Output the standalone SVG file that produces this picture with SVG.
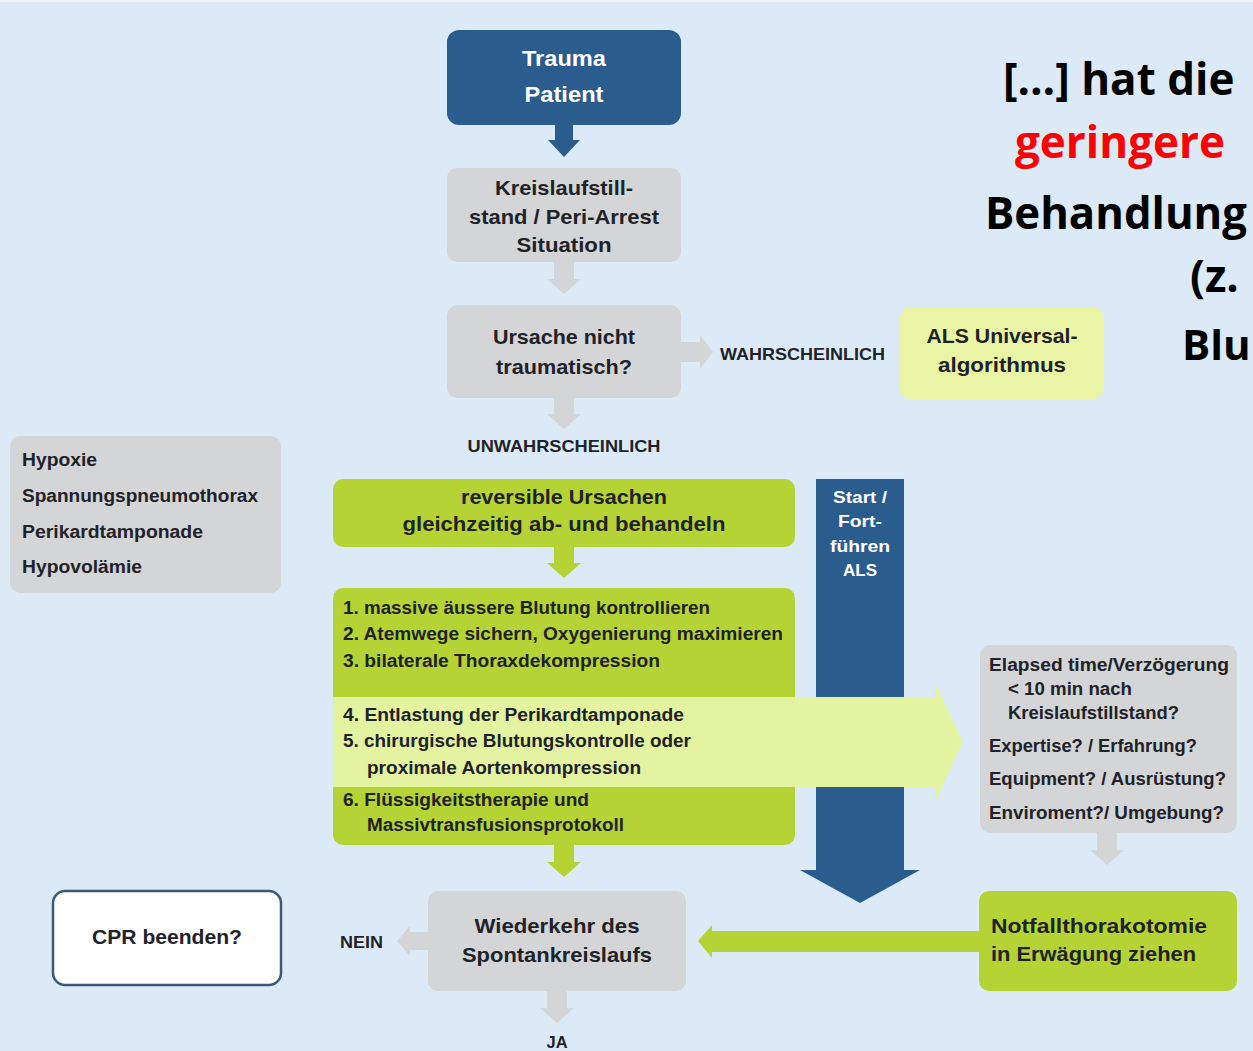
<svg xmlns="http://www.w3.org/2000/svg" width="1253" height="1051" viewBox="0 0 1253 1051">
<style>
.t{font-family:"Liberation Sans",Arial,sans-serif;font-weight:bold;fill:#1f2228}
.w{fill:#ffffff}
.c{text-anchor:middle}
.big{font-family:"Open Sans","Liberation Sans",sans-serif;font-weight:bold;font-size:44px;fill:#000}
.gray{fill:#d3d5d7}
.blue{fill:#2b5c8e}
.lime{fill:#b5d335}
.pale{fill:#e3f39f}
</style>
<rect width="1253" height="1051" fill="#dceaf7"/>
<rect width="1253" height="2" fill="#eef4fa"/>

<g id="connectors">
  <polygon class="blue" points="555,120 573,120 573,140 580,140 564,157 548,140 555,140"/>
  <polygon class="gray" points="554,260 574,260 574,279 581,279 564,294 547,279 554,279"/>
  <polygon class="gray" points="679,342 700,342 700,335 713,352 700,369 700,362 679,362"/>
  <polygon class="gray" points="554,396 574,396 574,414 581,414 564,429 547,414 554,414"/>
  <polygon class="lime" points="554,545 574,545 574,563 581,563 564,578 547,563 554,563"/>
  <polygon class="lime" points="554,843 574,843 574,862 581,862 564,877 547,862 554,862"/>
  <polygon class="gray" points="1097,831 1117,831 1117,850 1124,850 1107,865 1090,850 1097,850"/>
  <polygon class="lime" points="981,931 712,931 712,925 698,941 712,958 712,952 981,952"/>
  <polygon class="gray" points="430,932 410,932 410,926 397,941 410,956 410,950 430,950"/>
  <polygon class="gray" points="547,989 567,989 567,1008 574,1008 557,1023 540,1008 547,1008"/>
  <polygon class="blue" points="816,479 904,479 904,870 920,870 860,903 800,870 816,870"/>
</g>

<g id="trauma">
  <rect x="447" y="30" width="234" height="95" rx="12" class="blue"/>
  <text class="t w c" x="564" y="66" font-size="22" textLength="84" lengthAdjust="spacingAndGlyphs">Trauma</text>
  <text class="t w c" x="564" y="102" font-size="22" textLength="79" lengthAdjust="spacingAndGlyphs">Patient</text>
</g>

<g id="kreislauf">
  <rect x="447" y="168" width="234" height="94" rx="10" class="gray"/>
  <text class="t c" x="564" y="195" font-size="21" textLength="138" lengthAdjust="spacingAndGlyphs">Kreislaufstill-</text>
  <text class="t c" x="564" y="224" font-size="21" textLength="190" lengthAdjust="spacingAndGlyphs">stand / Peri-Arrest</text>
  <text class="t c" x="564" y="252" font-size="21" textLength="95" lengthAdjust="spacingAndGlyphs">Situation</text>
</g>

<g id="ursache">
  <rect x="447" y="305" width="234" height="93" rx="10" class="gray"/>
  <text class="t c" x="564" y="344" font-size="21" textLength="142" lengthAdjust="spacingAndGlyphs">Ursache nicht</text>
  <text class="t c" x="564" y="374" font-size="21" textLength="136" lengthAdjust="spacingAndGlyphs">traumatisch?</text>
</g>

<g id="labels">
  <text class="t" x="720" y="360" font-size="17" textLength="165" lengthAdjust="spacingAndGlyphs">WAHRSCHEINLICH</text>
  <text class="t c" x="564" y="452" font-size="17" textLength="193" lengthAdjust="spacingAndGlyphs">UNWAHRSCHEINLICH</text>
  <text class="t" x="340" y="948" font-size="17" textLength="43" lengthAdjust="spacingAndGlyphs">NEIN</text>
  <text class="t c" x="557" y="1048" font-size="17" textLength="21" lengthAdjust="spacingAndGlyphs">JA</text>
</g>

<g id="als">
  <rect x="900" y="307" width="203" height="92" rx="10" fill="#e9f5a4"/>
  <text class="t c" x="1002" y="343" font-size="21" textLength="151" lengthAdjust="spacingAndGlyphs">ALS Universal-</text>
  <text class="t c" x="1002" y="372" font-size="21" textLength="128" lengthAdjust="spacingAndGlyphs">algorithmus</text>
</g>

<g id="quote">
  <text class="big" x="1003" y="95">[…] hat die</text>
  <text class="big" x="1015" y="158" style="fill:#ff0000">geringere</text>
  <text class="big" x="985" y="229" textLength="262" lengthAdjust="spacingAndGlyphs">Behandlung</text>
  <text class="big" x="1190" y="292">(z.</text>
  <text class="big" x="1182" y="360" font-size="42" style="font-size:42px">Blu</text>
</g>

<g id="ursachen-liste">
  <rect x="10" y="436" width="271" height="157" rx="10" class="gray"/>
  <text class="t" x="22" y="466" font-size="18" textLength="75" lengthAdjust="spacingAndGlyphs">Hypoxie</text>
  <text class="t" x="22" y="502" font-size="18" textLength="236" lengthAdjust="spacingAndGlyphs">Spannungspneumothorax</text>
  <text class="t" x="22" y="538" font-size="18" textLength="181" lengthAdjust="spacingAndGlyphs">Perikardtamponade</text>
  <text class="t" x="22" y="573" font-size="18" textLength="120" lengthAdjust="spacingAndGlyphs">Hypovolämie</text>
</g>

<g id="reversible">
  <rect x="333" y="479" width="462" height="68" rx="10" class="lime"/>
  <text class="t c" x="564" y="504" font-size="21" textLength="206" lengthAdjust="spacingAndGlyphs">reversible Ursachen</text>
  <text class="t c" x="564" y="531" font-size="21" textLength="323" lengthAdjust="spacingAndGlyphs">gleichzeitig ab- und behandeln</text>
</g>

<g id="massnahmen">
  <rect x="333" y="588" width="462" height="257" rx="10" class="lime"/>
  <polygon class="pale" points="333,697 935,697 935,683 963,742 935,802 935,787 333,787"/>
  <text class="t" x="343" y="614" font-size="18" textLength="367" lengthAdjust="spacingAndGlyphs">1.  massive äussere Blutung kontrollieren</text>
  <text class="t" x="343" y="640" font-size="18" textLength="440" lengthAdjust="spacingAndGlyphs">2.  Atemwege sichern, Oxygenierung maximieren</text>
  <text class="t" x="343" y="667" font-size="18" textLength="317" lengthAdjust="spacingAndGlyphs">3.  bilaterale Thoraxdekompression</text>
  <text class="t" x="343" y="721" font-size="18" textLength="341" lengthAdjust="spacingAndGlyphs">4.  Entlastung der Perikardtamponade</text>
  <text class="t" x="343" y="747" font-size="18" textLength="348" lengthAdjust="spacingAndGlyphs">5.  chirurgische Blutungskontrolle oder</text>
  <text class="t" x="367" y="774" font-size="18" textLength="274" lengthAdjust="spacingAndGlyphs">proximale Aortenkompression</text>
  <text class="t" x="343" y="806" font-size="18" textLength="246" lengthAdjust="spacingAndGlyphs">6.  Flüssigkeitstherapie und</text>
  <text class="t" x="367" y="831" font-size="18" textLength="257" lengthAdjust="spacingAndGlyphs">Massivtransfusionsprotokoll</text>
</g>

<g id="als-bar">
  <text class="t w c" x="860" y="503" font-size="17" textLength="54" lengthAdjust="spacingAndGlyphs">Start /</text>
  <text class="t w c" x="860" y="527" font-size="17" textLength="44" lengthAdjust="spacingAndGlyphs">Fort-</text>
  <text class="t w c" x="860" y="552" font-size="17" textLength="60" lengthAdjust="spacingAndGlyphs">führen</text>
  <text class="t w c" x="860" y="576" font-size="17" textLength="34" lengthAdjust="spacingAndGlyphs">ALS</text>
</g>

<g id="eeee">
  <rect x="980" y="645" width="257" height="188" rx="10" class="gray"/>
  <text class="t" x="989" y="671" font-size="18" textLength="240" lengthAdjust="spacingAndGlyphs">Elapsed time/Verzögerung</text>
  <text class="t" x="1008" y="695" font-size="18" textLength="124" lengthAdjust="spacingAndGlyphs">&lt; 10 min nach</text>
  <text class="t" x="1008" y="719" font-size="18" textLength="171" lengthAdjust="spacingAndGlyphs">Kreislaufstillstand?</text>
  <text class="t" x="989" y="752" font-size="18" textLength="208" lengthAdjust="spacingAndGlyphs">Expertise? / Erfahrung?</text>
  <text class="t" x="989" y="785" font-size="18" textLength="237" lengthAdjust="spacingAndGlyphs">Equipment? / Ausrüstung?</text>
  <text class="t" x="989" y="819" font-size="18" textLength="235" lengthAdjust="spacingAndGlyphs">Enviroment?/ Umgebung?</text>
</g>

<g id="notfall">
  <rect x="979" y="891" width="258" height="100" rx="10" class="lime"/>
  <text class="t" x="991" y="933" font-size="20" textLength="216" lengthAdjust="spacingAndGlyphs">Notfallthorakotomie</text>
  <text class="t" x="991" y="961" font-size="20" textLength="205" lengthAdjust="spacingAndGlyphs">in Erwägung ziehen</text>
</g>

<g id="rosc">
  <rect x="428" y="891" width="258" height="100" rx="10" class="gray"/>
  <text class="t c" x="557" y="933" font-size="21" textLength="165" lengthAdjust="spacingAndGlyphs">Wiederkehr des</text>
  <text class="t c" x="557" y="962" font-size="21" textLength="190" lengthAdjust="spacingAndGlyphs">Spontankreislaufs</text>
</g>

<g id="cpr">
  <rect x="53" y="891" width="228" height="94" rx="12" fill="#ffffff" stroke="#3d5877" stroke-width="2.5"/>
  <text class="t c" x="167" y="944" font-size="21" textLength="150" lengthAdjust="spacingAndGlyphs">CPR beenden?</text>
</g>
</svg>
